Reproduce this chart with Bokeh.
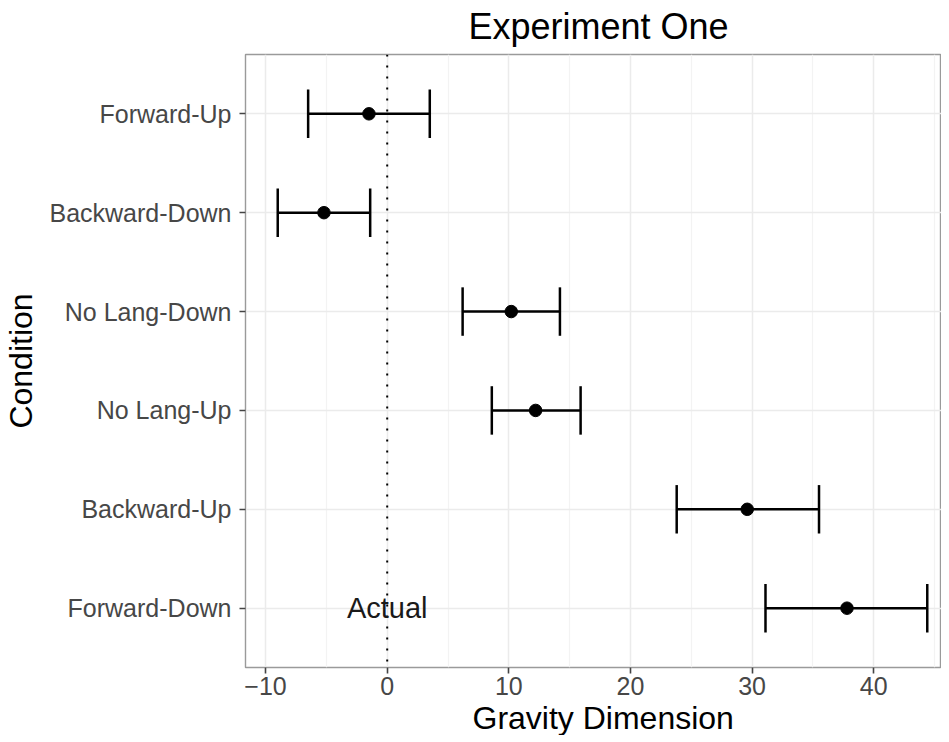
from bokeh.plotting import figure
from bokeh.models import ColumnDataSource, FactorRange, Range1d, Span, FixedTicker, Title
from bokeh.transform import dodge
from bokeh.core.properties import value
from bokeh.embed import file_html
from bokeh.resources import INLINE

# ---- data ----
conditions = ["Forward-Up", "Backward-Down", "No Lang-Down", "No Lang-Up", "Backward-Up", "Forward-Down"]
means = [-1.5, -5.2, 10.2, 12.2, 29.6, 37.8]
lower = [-6.5, -9.0, 6.2, 8.6, 23.8, 31.1]
upper = [3.5, -1.4, 14.2, 15.9, 35.5, 44.4]
x_ticks = [-10, 0, 10, 20, 30, 40]
x_minor = [-15, -5, 5, 15, 25, 35, 45]
actual_x = [0]
actual_row = ["Forward-Down"]
actual_label = ["Actual"]
title_text = "Experiment One"
x_title = "Gravity Dimension"
y_title = "Condition"

FONT = "Liberation Sans"

src = ColumnDataSource(dict(cond=conditions, mean=means, lo=lower, hi=upper))

p = figure(
    frame_width=696, frame_height=613,
    x_range=Range1d(-11.65, 45.57),
    y_range=FactorRange(factors=list(reversed(conditions)), range_padding=0.1,
                        range_padding_units="absolute"),
    output_backend="svg", toolbar_location=None,
    min_border_left=237, min_border_top=46, min_border_bottom=0, min_border_right=0,
)

# title
p.title.text = title_text
p.title.align = "left"
p.title.offset = 223
p.title.vertical_align = "top"
p.title.standoff = 11
p.title.text_font = FONT
p.title.text_font_size = "36px"
p.title.text_font_style = "normal"
p.title.text_color = "black"

# frame
p.background_fill_color = "white"
p.border_fill_color = "white"
p.outline_line_color = "#9a9a9a"
p.outline_line_width = 1.4

# grids
p.xgrid.ticker = FixedTicker(ticks=x_ticks, minor_ticks=x_minor)
p.xgrid.grid_line_color = "#EBEBEB"
p.xgrid.grid_line_width = 1.5
p.xgrid.minor_grid_line_color = "#F3F3F3"
p.xgrid.minor_grid_line_width = 1.2
p.ygrid.grid_line_color = "#EBEBEB"
p.ygrid.grid_line_width = 1.5

# axes
p.xaxis.ticker = FixedTicker(ticks=x_ticks, minor_ticks=x_minor)
for ax in (p.xaxis[0], p.yaxis[0]):
    ax.axis_line_color = None
    ax.major_tick_line_color = "#444444"
    ax.major_tick_line_width = 1.6
    ax.major_tick_out = 6
    ax.major_tick_in = 0
    ax.minor_tick_line_color = None
    ax.major_label_text_font = FONT
    ax.major_label_text_font_size = "25px"
    ax.major_label_text_color = "#474747"
    ax.axis_label_text_font = FONT
    ax.axis_label_text_font_size = "32px"
    ax.axis_label_text_font_style = "normal"
    ax.axis_label_text_color = "black"
p.yaxis.axis_label = y_title
p.xaxis.major_label_standoff = 3
p.yaxis.major_label_standoff = 8
p.yaxis.axis_label_standoff = 7

# x-axis title as a title placed below the axis
p.add_layout(Title(text=x_title, align="left", offset=227, vertical_align="bottom",
                   standoff=0, text_font=FONT, text_font_size="32px",
                   text_font_style="normal", text_color="black"), "below")

# reference line at 0
p.add_layout(Span(location=0, dimension="height", line_color="black",
                  line_width=2, line_dash="2 9", level="underlay"))

# error bars
p.segment(x0="lo", y0="cond", x1="hi", y1="cond", source=src,
          line_color="black", line_width=2.5)
p.segment(x0="lo", y0=dodge("cond", -0.245, range=p.y_range),
          x1="lo", y1=dodge("cond", 0.245, range=p.y_range),
          source=src, line_color="black", line_width=2.5)
p.segment(x0="hi", y0=dodge("cond", -0.245, range=p.y_range),
          x1="hi", y1=dodge("cond", 0.245, range=p.y_range),
          source=src, line_color="black", line_width=2.5)
p.scatter(x="mean", y="cond", source=src, size=12.5, color="black")

# annotation
p.text(x=actual_x, y=actual_row, text=actual_label, text_font=value(FONT),
       text_font_size="29px", text_align="center", text_baseline="middle",
       text_color="#1a1a1a")

open("out.html", "w").write(file_html(p, INLINE))
